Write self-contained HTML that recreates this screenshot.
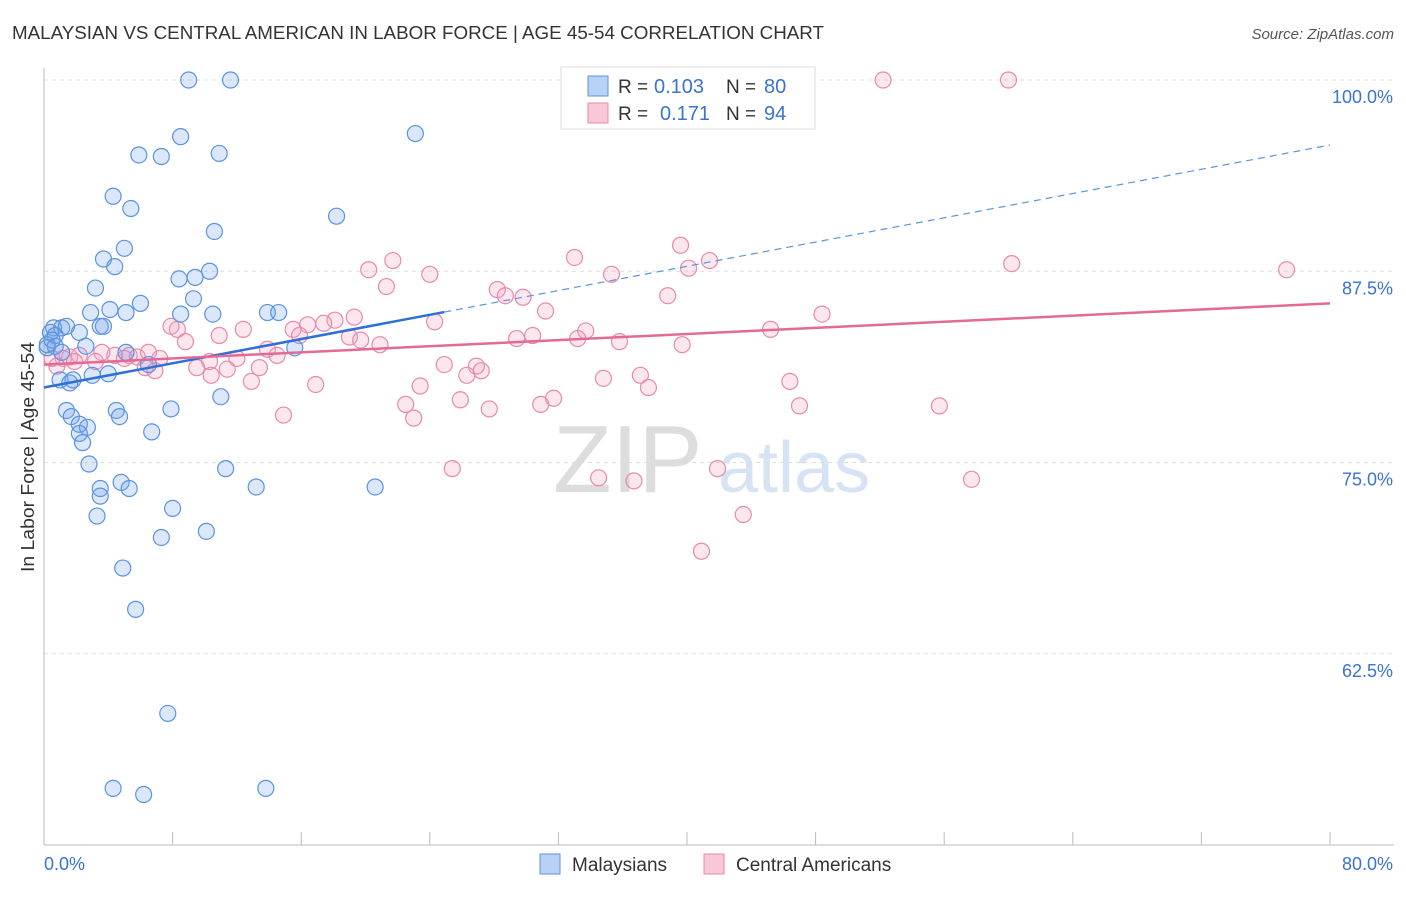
<!DOCTYPE html>
<html><head><meta charset="utf-8">
<style>
body{margin:0;background:#fff;font-family:"Liberation Sans",sans-serif;}
svg text{font-family:"Liberation Sans",sans-serif;}
</style></head>
<body>
<svg id="chart" width="1406" height="892" xmlns="http://www.w3.org/2000/svg">
<text x="12" y="39" font-size="18" fill="#333" textLength="812" lengthAdjust="spacingAndGlyphs">MALAYSIAN VS CENTRAL AMERICAN IN LABOR FORCE | AGE 45-54 CORRELATION CHART</text>
<text x="1394" y="39" font-size="15" fill="#555" text-anchor="end" font-style="italic">Source: ZipAtlas.com</text>
<text x="34" y="457" font-size="18" fill="#333" text-anchor="middle" transform="rotate(-90 34 457)" textLength="230" lengthAdjust="spacingAndGlyphs">In Labor Force | Age 45-54</text>
<g>
<text x="553" y="492" font-size="96" fill="#ddd" font-family="Liberation Serif">ZIP</text>
<text x="718" y="492" font-size="72" fill="#d5e3f5">atlas</text>
</g>
<g id="grid"></g><g id="axes"></g><g id="marks"></g>
<g>
<rect x="561" y="67" width="254" height="62" fill="#fff" stroke="#ddd"/>
<rect x="588" y="76" width="20" height="20" fill="#b8d2f5" stroke="#5b93e0"/>
<text x="618" y="93" font-size="19" fill="#333">R =</text>
<text x="654" y="93" font-size="20" fill="#3b73d0">0.103</text>
<text x="726" y="93" font-size="19" fill="#333">N =</text>
<text x="764" y="93" font-size="20" fill="#3b73d0">80</text>
<rect x="588" y="103" width="20" height="20" fill="#f8c8d8" stroke="#e88aab"/>
<text x="618" y="120" font-size="19" fill="#333">R =</text>
<text x="660" y="120" font-size="20" fill="#3b73d0">0.171</text>
<text x="726" y="120" font-size="19" fill="#333">N =</text>
<text x="764" y="120" font-size="20" fill="#3b73d0">94</text>
</g>
<g>
<rect x="540" y="854" width="20" height="20" fill="#b8d2f5" stroke="#5b93e0"/>
<text x="572" y="871" font-size="19" fill="#333">Malaysians</text>
<rect x="704" y="854" width="20" height="20" fill="#f8c8d8" stroke="#e88aab"/>
<text x="736" y="871" font-size="19" fill="#333">Central Americans</text>
</g>
</svg>
<script>
const yTicks=[100,87.5,75,62.5];
const yTickLabels=["100.0%","87.5%","75.0%","62.5%"];
const xTickLabels=["0.0%","80.0%"];
const blueX=[9.0,11.6,23.1,8.5,5.9,7.3,10.9,4.3,5.4,18.2,10.6,5.0,3.7,4.4,10.3,8.4,9.4,3.2,9.3,6.0,4.1,2.9,5.1,8.5,10.5,13.9,14.6,0.6,1.1,1.4,0.4,0.7,2.2,3.5,3.7,2.6,0.2,0.7,1.1,5.1,6.5,15.6,1.0,1.8,1.6,3.0,4.0,11.0,1.4,1.7,4.5,4.7,7.9,2.2,2.7,2.2,2.4,6.7,2.8,11.3,4.8,3.5,5.3,13.2,20.6,3.5,8.0,3.3,10.1,7.3,4.9,5.7,7.7,4.3,6.2,13.8,0.2,0.5];
const blueY=[100,100,96.5,96.3,95.1,95.0,95.2,92.4,91.6,91.1,90.1,89.0,88.3,87.8,87.5,87.0,87.1,86.4,85.7,85.4,85.0,84.8,84.8,84.7,84.7,84.8,84.8,83.8,83.8,83.9,83.5,83.3,83.5,83.9,83.9,82.6,82.5,82.6,82.2,82.2,81.4,82.5,80.4,80.4,80.2,80.7,80.8,79.3,78.4,78.0,78.4,78.0,78.5,77.5,77.3,76.9,76.3,77.0,74.9,74.6,73.7,73.3,73.3,73.4,73.4,72.8,72.0,71.5,70.5,70.1,68.1,65.4,58.6,53.7,53.3,53.7,82.7,83.0];
const pinkX=[43.0,52.2,60.0,39.6,41.4,40.1,33.0,21.7,20.2,24.0,35.3,21.3,60.2,77.3,28.2,28.7,29.8,38.8,31.2,48.4,19.3,18.1,17.4,16.4,15.5,15.9,12.4,8.3,7.9,24.3,33.7,33.2,30.4,29.4,19.0,19.7,20.9,35.8,39.7,45.2,10.9,8.8,13.9,14.5,12.0,10.3,9.5,7.2,5.3,4.4,5.0,3.6,2.2,1.6,1.2,0.8,0.5,1.9,3.2,6.3,6.9,11.4,13.4,24.9,26.9,27.2,26.3,37.1,34.8,23.4,16.9,12.9,10.4,37.6,46.4,31.7,30.9,25.9,27.7,22.5,23.0,14.9,47.0,55.7,25.4,34.5,36.7,41.9,57.7,43.5,40.9,5.8,6.5];
const pinkY=[100,100,100,89.2,88.2,87.7,88.4,88.2,87.6,87.3,87.3,86.5,88.0,87.6,86.3,85.9,85.8,85.9,84.9,84.7,84.5,84.3,84.1,84.0,83.7,83.3,83.7,83.7,83.9,84.2,83.6,83.1,83.3,83.1,83.2,83.0,82.7,82.9,82.7,83.7,83.3,82.9,82.4,82.0,81.8,81.6,81.2,81.8,82.0,82.0,81.8,82.2,82.0,81.9,81.8,81.3,81.8,81.6,81.6,81.2,81.0,81.1,81.2,81.4,81.3,81.0,80.7,80.7,80.5,80.0,80.1,80.3,80.7,79.9,80.3,79.2,78.8,79.1,78.5,78.8,77.9,78.1,78.7,78.7,74.6,74.0,73.8,74.6,73.9,71.6,69.2,81.9,82.2];
const blueTrend=[79.9,95.75];
const blueSolidEnd=24.9;
const pinkTrend=[81.4,85.4];

const NS="http://www.w3.org/2000/svg";
const X0=44,X1=1330;
const sx=v=>X0+(v/80)*(X1-X0);
const sy=v=>80+(100-v)*15.3;
function mk(tag,attrs,parent){const e=document.createElementNS(NS,tag);for(const k in attrs)e.setAttribute(k,attrs[k]);document.getElementById(parent).appendChild(e);return e;}

yTicks.forEach((t,i)=>{
 const l=mk('line',{x1:X0,x2:1394,y1:sy(t),y2:sy(t),stroke:'#ddd','stroke-dasharray':'4,4'},'grid');
 
 
 const tx=mk('text',{x:1393,y:sy(t)+23,'font-size':18,fill:'#3b73d0','text-anchor':'end'},'axes');
 tx.textContent=yTickLabels[i];
 
 
});
const ya=mk('line',{x1:X0,x2:X0,y1:68,y2:845,stroke:'#bbb'},'axes');


const xa=mk('line',{x1:X0,x2:1394,y1:845,y2:845,stroke:'#bbb'},'axes');


for(let i=0;i<=10;i++){
 const t=mk('line',{x1:sx(i*8),x2:sx(i*8),y1:832,y2:845,stroke:'#bbb'},'axes');
 
 
}
[[0,'start',44],[80,'end',1393]].forEach((d,i)=>{
 const tx=mk('text',{x:d[2],y:870,'font-size':18,fill:'#3b73d0','text-anchor':d[1]},'axes');
 tx.textContent=xTickLabels[i];
 
 
});

pinkX.forEach((x,i)=>{
 const c=mk('circle',{cx:sx(x),cy:sy(pinkY[i]),r:8,fill:'rgba(245,160,190,0.25)',stroke:'#e88aab','stroke-width':1.2},'marks');
 
 
});
blueX.forEach((x,i)=>{
 const c=mk('circle',{cx:sx(x),cy:sy(blueY[i]),r:8,fill:'rgba(110,160,235,0.25)',stroke:'#5b93e0','stroke-width':1.2},'marks');
 
 
});
const by=x=>blueTrend[0]+(blueTrend[1]-blueTrend[0])*x/80;
const b1=mk('line',{x1:sx(0),y1:sy(by(0)),x2:sx(blueSolidEnd),y2:sy(by(blueSolidEnd)),stroke:'#2f6fd6','stroke-width':2.5},'marks');


const b2=mk('line',{x1:sx(blueSolidEnd),y1:sy(by(blueSolidEnd)),x2:sx(80),y2:sy(by(80)),stroke:'#5b93e0','stroke-width':1.2,'stroke-dasharray':'7,5'},'marks');


const p1=mk('line',{x1:sx(0),y1:sy(pinkTrend[0]),x2:sx(80),y2:sy(pinkTrend[1]),stroke:'#e46a96','stroke-width':2.5},'marks');


</script>
</body></html>
